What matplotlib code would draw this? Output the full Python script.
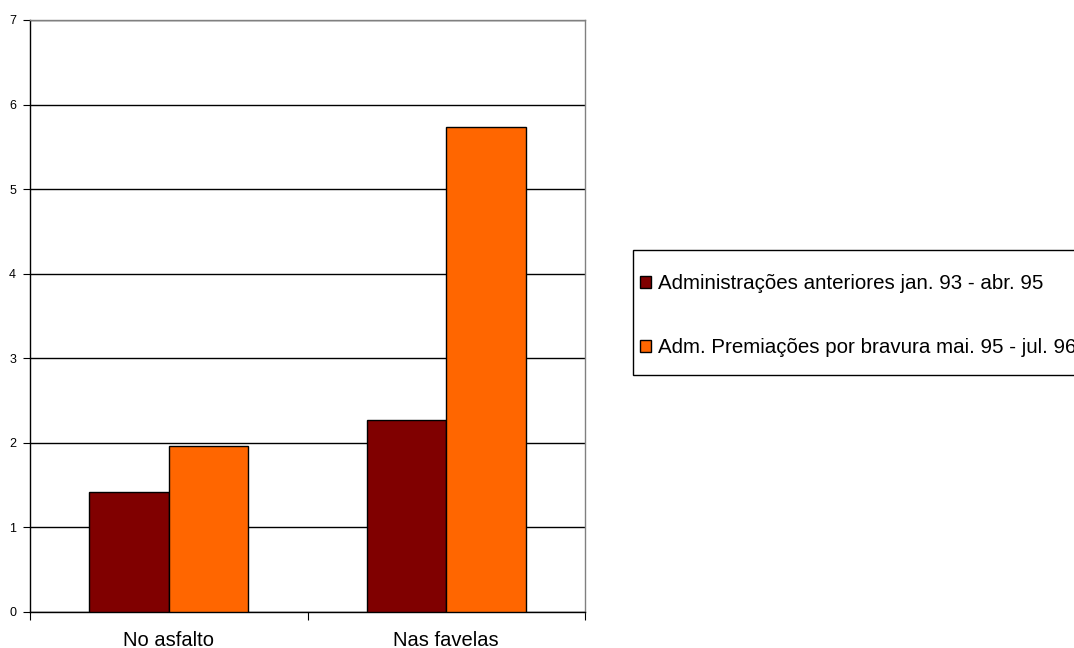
import numpy as np
import matplotlib.pyplot as plt
from matplotlib.patches import Rectangle

plt.rcParams['font.family'] = ['Liberation Sans', 'DejaVu Sans']

categorias = ['No asfalto', 'Nas favelas']
series = ['Administrações anteriores jan. 93 - abr. 95',
          'Adm. Premiações por bravura mai. 95 - jul. 96']
anteriores = [1.42, 2.27]
bravura = [1.96, 5.73]
cores = ['#800000', '#FF6600']

W, H = 1074, 648
fig = plt.figure(figsize=(W / 100, H / 100), dpi=100)
ax = fig.add_axes([30 / W, 1 - 612 / H, 555 / W, 592 / H])

x = np.arange(len(categorias))
w = 0.286
for i, (vals, cor, nome) in enumerate(zip([anteriores, bravura], cores, series)):
    ax.bar(x + (i - 0.5) * w, vals, width=w, color=cor, edgecolor='black',
           linewidth=1.0, label=nome, zorder=3)

ax.set_xlim(-0.5, len(categorias) - 0.5)
ax.set_ylim(0, 7)
ax.set_yticks(range(0, 8))
ax.yaxis.grid(True, color='black', linewidth=1.0, zorder=0)
ax.set_axisbelow(True)

ax.set_xticks(x)
ax.set_xticklabels(categorias, fontsize=14.5)
ax.set_xticks(np.arange(-0.5, len(categorias)), minor=True)
ax.tick_params(axis='x', which='major', length=0, pad=14)
ax.tick_params(axis='x', which='minor', length=6, width=0.8, direction='out')
ax.tick_params(axis='y', labelsize=9, length=5, width=0.8, direction='out', pad=5)

ax.spines['left'].set_color('black')
ax.spines['bottom'].set_color('black')
ax.spines['top'].set_color('#808080')
ax.spines['right'].set_color('#808080')
for s in ax.spines.values():
    s.set_linewidth(1.0)

# legend frame runs past the right edge of the figure
fig.patches.append(Rectangle((633 / W, 1 - 375 / H), 500 / W, 125 / H,
                             transform=fig.transFigure, facecolor='white',
                             edgecolor='black', linewidth=1.0))
leg = fig.legend(loc='upper left', bbox_to_anchor=(640 / W, 1 - 274 / H),
                 fontsize=14.8, frameon=False,
                 handlelength=0.55, handleheight=0.55, handletextpad=0.35,
                 labelspacing=2.2, borderpad=0, borderaxespad=0)

fig.savefig('out.png', dpi=100)
